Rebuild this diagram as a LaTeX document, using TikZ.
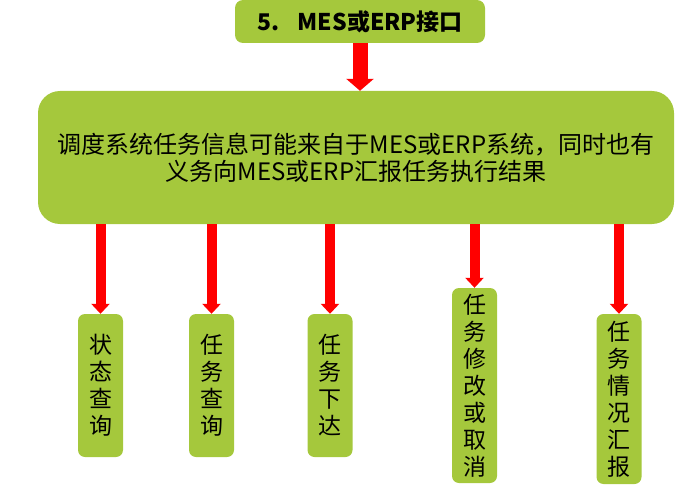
\documentclass[tikz,border=0pt]{standalone}
\usepackage{fontspec}
\setmainfont{Noto Sans CJK SC}
\usepackage{tikz}
\usetikzlibrary{arrows.meta}
\definecolor{greenbox}{HTML}{A5C83C}
\definecolor{redarrow}{HTML}{FF0000}
\tikzset{every node/.append style={font=\rmfamily}}
\tikzset{
  panel/.style={fill=greenbox,draw=none,inner sep=0pt,align=center},
  taskbox/.style={panel,rounded corners=7pt,minimum width=45pt,
    font=\fontsize{23}{27}\selectfont},
  pointer/.style={redarrow,line width=10pt,-{Triangle[width=18pt,length=10pt]}}
}

\begin{document}
\begin{tikzpicture}[x=1pt,y=-1pt]
  \useasboundingbox (0,0) rectangle (694,487);
  \node[panel,rounded corners=8pt,minimum width=250pt,minimum height=43pt,
    font=\bfseries\fontsize{23}{27}\selectfont] (title) at (360,21.5)
    {5.\hspace{0.8em}MES或ERP接口};
  \node[panel,rounded corners=22pt,minimum width=636pt,minimum height=133pt,
    font=\fontsize{24}{27}\selectfont] (main) at (356,157.5)
    {调度系统任务信息可能来自于MES或ERP系统，同时也有\\义务向MES或ERP汇报任务执行结果};
  \draw[pointer,line width=15pt,-{Triangle[width=27pt,length=12pt]}]
    (title.south) -- (title.south |- main.north);
  % task boxes
  \node[taskbox,minimum height=143pt] (state) at (100.5,385.5) {状\\态\\查\\询};
  \node[taskbox,minimum height=143pt] (query) at (211.5,385.5) {任\\务\\查\\询};
  \node[taskbox,minimum height=143pt] (issue) at (330,385.5) {任\\务\\下\\达};
  \node[taskbox,minimum height=195pt] (modify) at (474.5,385.5) {任\\务\\修\\改\\或\\取\\消};
  \node[taskbox,minimum height=170pt] (report) at (619,399) {任\\务\\情\\况\\汇\\报};
  \foreach \t in {state,query,issue,modify,report}
    \draw[pointer] (\t.north |- main.south) -- (\t.north);
\end{tikzpicture}
\end{document}
